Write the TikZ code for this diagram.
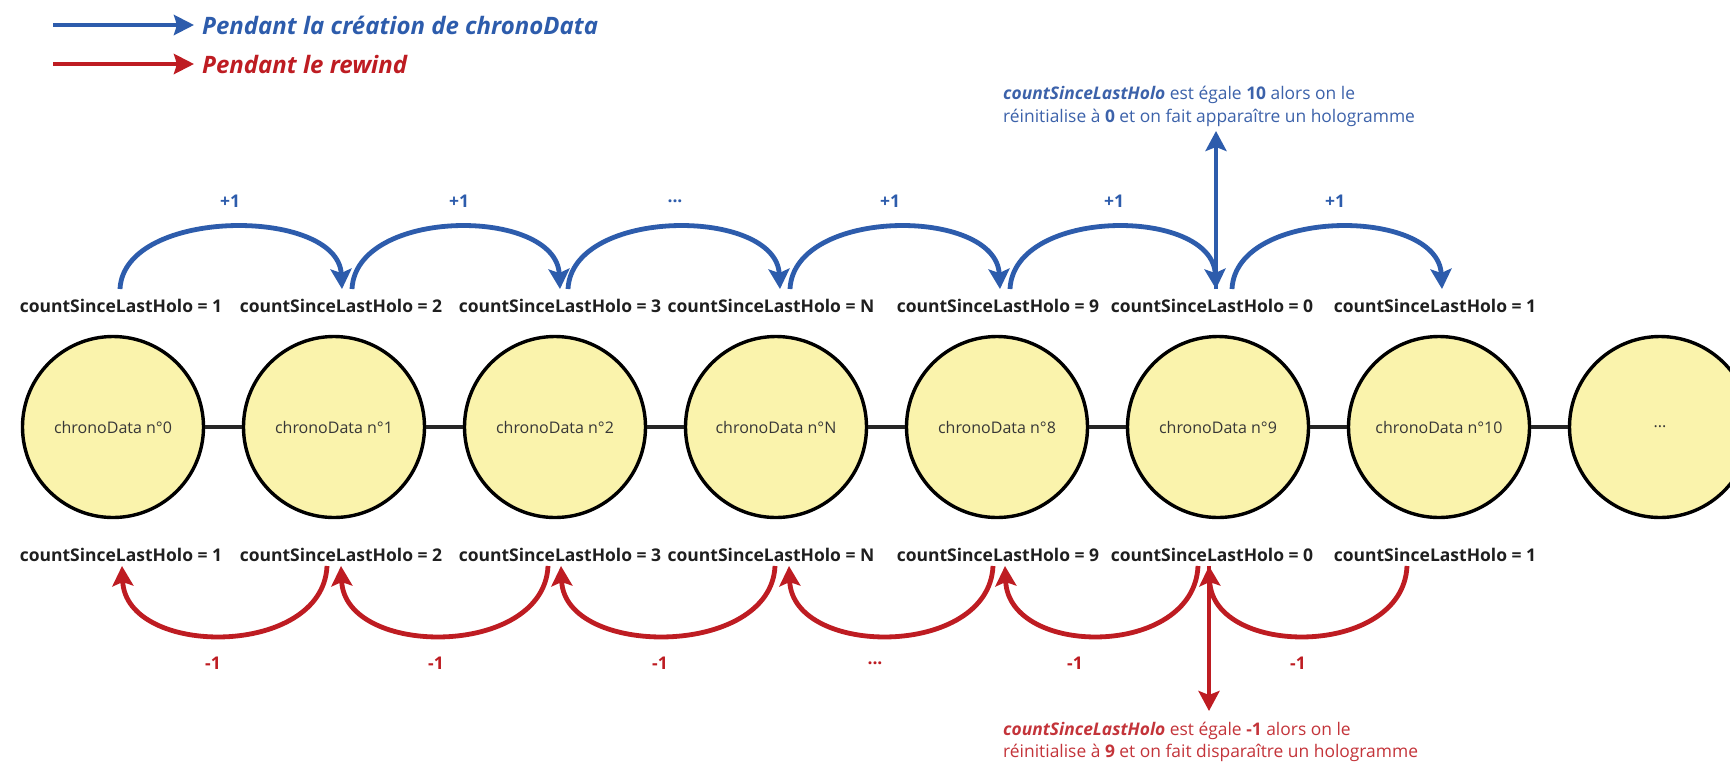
\documentclass[tikz,border=0pt]{standalone}
\usepackage{fontspec}
\setmainfont{Open Sans}
\usetikzlibrary{arrows.meta}

\definecolor{arcblue}{RGB}{45,92,172}
\definecolor{arcred}{RGB}{190,28,34}
\definecolor{noteblue}{RGB}{60,98,170}
\definecolor{notered}{RGB}{196,52,58}
\definecolor{datafill}{RGB}{250,243,172}
\definecolor{datatext}{RGB}{55,55,55}
\newcommand{\threedots}{...}

\begin{document}
\begin{tikzpicture}[x=1pt,y=-1pt,
  datanode/.style={circle,draw=black,line width=3.4pt,fill=datafill,
    minimum size=181pt,inner sep=0pt,text=datatext,
    font=\fontsize{16}{19}\selectfont},
  link/.style={draw=black!85,line width=4.5pt},
  countlbl/.style={inner sep=0pt,text=black!88,
    font=\bfseries\fontsize{17.5}{20}\selectfont},
  steplbl/.style={inner sep=0pt,font=\bfseries\fontsize{17.5}{20}\selectfont},
  tipstyle/.style={-{Stealth[length=20pt,width=21pt,inset=4pt]}},
  bluearc/.style={tipstyle,draw=arcblue,line width=4.8pt},
  redarc/.style={tipstyle,draw=arcred,line width=4.8pt},
  legendarrow/.style={line width=4.6pt,-{Stealth[length=20pt,width=20pt,inset=3pt]}},
  legendtxt/.style={anchor=west,inner sep=0pt,
    font=\bfseries\itshape\fontsize{24}{28}\selectfont},
  notetxt/.style={anchor=base west,inner sep=0pt,
    font=\fontsize{17.4}{24}\selectfont}
]
\useasboundingbox (0,0) rectangle (1730,764);
\clip (0,0) rectangle (1730,764);
\fill[white] (0,0) rectangle (1730,764);

% legend
\coordinate (lgb1) at (53,25);  \coordinate (lgb2) at (194,25);
\coordinate (lgr1) at (53,64);  \coordinate (lgr2) at (194,64);
\draw[legendarrow,draw=arcblue] (lgb1) -- (lgb2);
\draw[legendarrow,draw=arcred] (lgr1) -- (lgr2);
\node[legendtxt,text=arcblue] (lgbt) at (202,25) {Pendant la création de chronoData};
\node[legendtxt,text=arcred] (lgrt) at (202,64) {Pendant le rewind};

% chain of chronoData records
\foreach \i/\x/\t in {0/113/chronoData n°0, 1/334/chronoData n°1,
    2/555/chronoData n°2, 3/776/chronoData n°N, 4/997/chronoData n°8,
    5/1218/chronoData n°9, 6/1439/chronoData n°10, 7/1660/\threedots}
  \node[datanode] (c\i) at (\x,427) {\t};
\foreach \a/\b in {0/1,1/2,2/3,3/4,4/5,5/6,6/7}
  \draw[link] (c\a.east) -- (c\b.west);

% counters above and below
\foreach \i/\x/\v in {0/121/1, 1/341/2, 2/560/3, 3/771/N, 4/998/9, 5/1212/0, 6/1435/1} {
  \node[countlbl] (u\i) at (\x,306) {countSinceLastHolo = \v};
  \node[countlbl] (d\i) at (\x,555) {countSinceLastHolo = \v};
}

% increments while recording
\foreach \i/\a/\b/\lx/\lt in {1/120/342/230/+1, 2/352/560/459/+1, 3/568/780/675/\threedots,
    4/790/1000/890/+1, 5/1010/1216/1114/+1, 6/1232/1442/1335/+1} {
  \coordinate (us\i) at (\a,289);
  \coordinate (ue\i) at (\b,289);
  \draw[bluearc] (us\i) .. controls ([shift={(4,-82)}]us\i) and ([shift={(-4,-82)}]ue\i) .. (ue\i);
  \node[steplbl,text=arcblue] (up\i) at (\lx,201) {\lt};
}

% decrements while rewinding
\foreach \i/\a/\b/\lx/\lt in {1/327/122/213/-1, 2/548/341/436/-1, 3/775/561/660/-1,
    4/993/789/875/\threedots, 5/1198/1005/1075/-1, 6/1407/1209/1298/-1} {
  \coordinate (ls\i) at (\a,566);
  \coordinate (le\i) at (\b,566);
  \draw[redarc] (ls\i) .. controls ([shift={(-4,92)}]ls\i) and ([shift={(4,92)}]le\i) .. (le\i);
  \node[steplbl,text=arcred] (dn\i) at (\lx,663) {\lt};
}

% hologram events
\coordinate (holoup) at (1216,131);
\coordinate (holodown) at (1209,711);
\draw[bluearc] (ue5) -- (holoup);
\draw[redarc] (le6) -- (holodown);

\node[notetxt,text=noteblue] (nt1) at (1003,99)
  {\textbf{\textit{countSinceLastHolo}} est égale \textbf{10} alors on le};
\node[notetxt,text=noteblue] (nt2) at (1003,122)
  {réinitialise à \textbf{0} et on fait apparaître un hologramme};
\node[notetxt,text=notered] (nb1) at (1003,735)
  {\textbf{\textit{countSinceLastHolo}} est égale \textbf{-1} alors on le};
\node[notetxt,text=notered] (nb2) at (1003,757)
  {réinitialise à \textbf{9} et on fait disparaître un hologramme};
\end{tikzpicture}
\end{document}
